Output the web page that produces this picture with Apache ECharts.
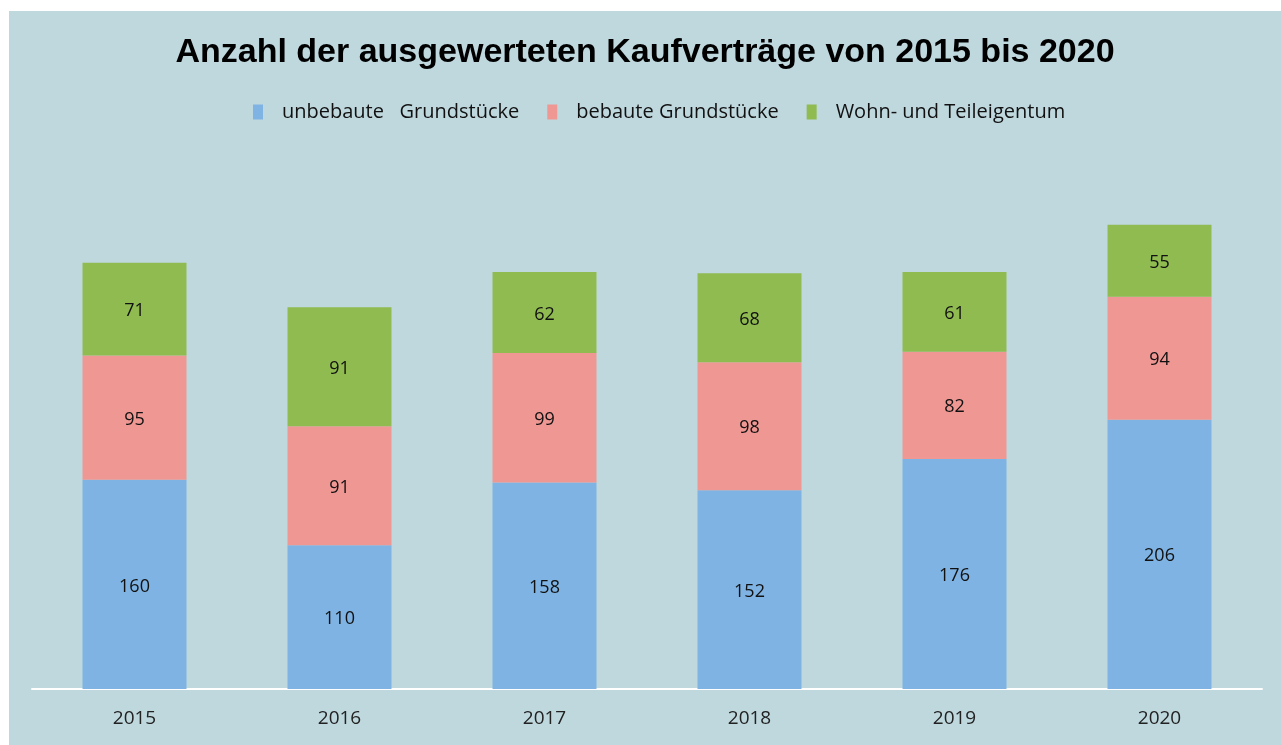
<!DOCTYPE html>
<html>
<head>
<meta charset="utf-8">
<script src="https://cdn.jsdelivr.net/npm/echarts@6/dist/echarts.min.js"></script>
<style>
  html, body { margin: 0; padding: 0; background: #fff; }
  #chart { position: absolute; left: 9px; top: 11px; width: 1272px; height: 734px; background: #bfd8de; }
</style>
</head>
<body>
<div id="chart"></div>
<script>
var years = ['2015', '2016', '2017', '2018', '2019', '2020'];
var unbebaut = [160, 110, 158, 152, 176, 206];
var bebaut = [95, 91, 99, 98, 82, 94];
var wohnTeil = [71, 91, 62, 68, 61, 55];

var chart = echarts.init(document.getElementById('chart'));

function barSeries(name, data, color) {
  return {
    name: name,
    type: 'bar',
    stack: 'total',
    data: data,
    barWidth: 104,
    itemStyle: { color: color },
    label: {
      show: true,
      position: 'inside',
      color: '#111',
      fontSize: 18,
      fontFamily: 'Open Sans',
      offset: [0, 2]
    }
  };
}

var option = {
  animation: false,
  title: {
    text: 'Anzahl der ausgewerteten Kaufverträge von 2015 bis 2020',
    left: 'center',
    top: 20,
    textStyle: { fontSize: 34, fontWeight: 'bold', color: '#000', fontFamily: 'Liberation Sans' }
  },
  legend: {
    top: 86,
    left: 239,
    itemWidth: 10,
    itemHeight: 15,
    itemGap: 28,
    icon: 'rect',
    textStyle: { fontSize: 20, color: '#111', fontFamily: 'Open Sans', padding: [0, 0, 0, 14] },
    data: ['unbebaute   Grundstücke', 'bebaute Grundstücke', 'Wohn- und Teileigentum']
  },
  grid: { left: 23, right: 19, top: 155, bottom: 56 },
  xAxis: {
    type: 'category',
    data: years,
    axisLine: { lineStyle: { color: '#fff', width: 2 } },
    axisTick: { show: false },
    axisLabel: { fontSize: 19, color: '#222', margin: 20, fontFamily: 'Open Sans' }
  },
  yAxis: {
    type: 'value',
    min: 0,
    max: 400,
    show: false,
    splitLine: { show: false }
  },
  series: [
    barSeries('unbebaute   Grundstücke', unbebaut, '#7eb3e3'),
    barSeries('bebaute Grundstücke', bebaut, '#ef9793'),
    barSeries('Wohn- und Teileigentum', wohnTeil, '#8fbb50')
  ]
};
chart.setOption(option);
</script>
</body>
</html>
